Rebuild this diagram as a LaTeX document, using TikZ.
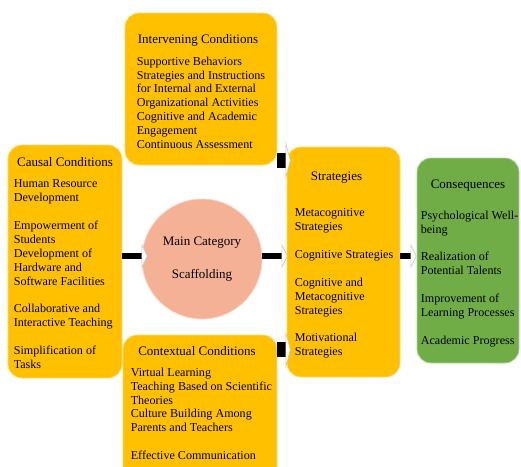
\documentclass[tikz,border=0pt]{standalone}
\usepackage{fontspec}
\setmainfont{Liberation Serif}
\usetikzlibrary{arrows.meta, positioning}

\definecolor{boxgold}{HTML}{FFC000}
\definecolor{boxgreen}{HTML}{70AD47}
\definecolor{coresalmon}{HTML}{F4B196}

\begin{document}
\begin{tikzpicture}[
    x=1pt, y=-1pt,
    every node/.style={font=\fontsize{12.1}{13.9}\selectfont, inner sep=0pt},
    panel/.style={rectangle, draw=boxgold!55!white, line width=0.8pt, fill=boxgold, rounded corners=14pt},
    outcome/.style={panel, draw=boxgreen!55!white, fill=boxgreen},
    core/.style={circle, draw=coresalmon!55!white, line width=0.8pt, fill=coresalmon, minimum size=120pt, align=center, font=\fontsize{13}{13.9}\selectfont},
    heading/.style={align=center, font=\fontsize{13}{13.9}\selectfont},
    items/.style={align=left},
    flow/.style={line width=6.5pt, -{Triangle[length=6pt, width=25pt, color=gray!45, fill=white, line width=0.6pt]}},
    wideflow/.style={line width=15pt, -{Triangle[length=5pt, width=38pt, color=gray!45, fill=white, line width=0.6pt]}}
]

\useasboundingbox (0,0) rectangle (521,466);

% Boxes
\node[panel, minimum width=152pt, minimum height=152pt] (interv) at (201,89) {};
\node[panel, minimum width=114pt, minimum height=233pt] (causal) at (65,261.5) {};
\node[panel, minimum width=154pt, minimum height=150pt] (context) at (200,410) {};
\node[panel, minimum width=113pt, minimum height=230pt] (strat) at (343.5,262) {};
\node[outcome, minimum width=102pt, minimum height=205pt] (cons) at (468,260.5) {};

% Main category
\node[core] (scaff) at (202,259) {Main Category\\[19pt]Scaffolding};

% Arrows
\coordinate (mid) at ([yshift=3pt]scaff.center);
\coordinate (upper) at ([yshift=5pt]interv.south east);
\coordinate (lower) at ([yshift=-15pt]context.north east);
\draw[flow, shorten >=-6pt] (causal.east |- mid) -- (scaff.west |- mid);
\draw[flow, shorten >=-1pt] (scaff.east |- mid) -- (strat.west |- mid);
\draw[flow] (strat.east |- mid) -- (cons.west |- mid);
\draw[wideflow, shorten >=-4pt] (upper) -- (upper -| strat.west);
\draw[wideflow, shorten >=-4pt] (lower) -- (lower -| strat.west);

% Intervening conditions
\node[heading, below=22pt of interv.north, xshift=-3pt] (intervH) {Intervening Conditions};
\node[items, below right=44pt and 12pt of interv.north west] (intervL) {Supportive Behaviors\\Strategies and Instructions\\for Internal and External\\Organizational Activities\\Cognitive and Academic\\Engagement\\Continuous Assessment};

% Causal conditions
\node[heading, below=13pt of causal.north] (causalH) {Causal Conditions};
\node[items, below right=35pt and 6pt of causal.north west] (causalL) {Human Resource\\Development\\[13.9pt]Empowerment of\\Students\\Development of\\Hardware and\\Software Facilities\\[13.9pt]Collaborative and\\Interactive Teaching\\[13.9pt]Simplification of\\Tasks};

% Contextual conditions
\node[heading, below=12pt of context.north, xshift=-3pt] (contextH) {Contextual Conditions};
\node[items, below right=33pt and 8pt of context.north west] (contextL) {Virtual Learning\\Teaching Based on Scientific\\Theories\\Culture Building Among\\Parents and Teachers\\[13.9pt]Effective Communication};

% Strategies
\node[heading, below=25pt of strat.north, xshift=-7pt] (stratH) {Strategies};
\node[items, below right=62pt and 8pt of strat.north west] (stratL) {Metacognitive\\Strategies\\[13.9pt]Cognitive Strategies\\[13.9pt]Cognitive and\\Metacognitive\\Strategies\\[13.9pt]Motivational\\Strategies};

% Consequences
\node[heading, below=22pt of cons.north] (consH) {Consequences};
\node[items, below right=53pt and 4pt of cons.north west] (consL) {Psychological Well-\\being\\[13.9pt]Realization of\\Potential Talents\\[13.9pt]Improvement of\\Learning Processes\\[13.9pt]Academic Progress};

\end{tikzpicture}
\end{document}
